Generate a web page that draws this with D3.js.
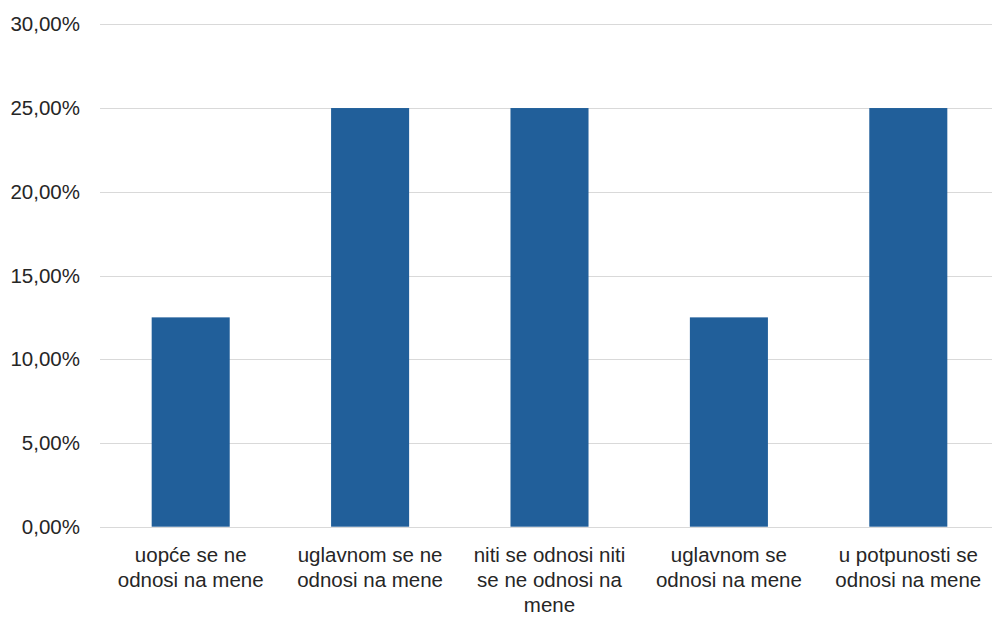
<!DOCTYPE html>
<html>
<head>
<meta charset="utf-8">
<script src="https://cdn.jsdelivr.net/npm/d3@7"></script>
<style>
  html, body { margin: 0; padding: 0; background: #fff; }
  svg { display: block; }
</style>
</head>
<body>
<svg id="chart" width="992" height="617"></svg>
<script>
const categories = [
  "uopće se ne\nodnosi na mene",
  "uglavnom se ne\nodnosi na mene",
  "niti se odnosi niti\nse ne odnosi na\nmene",
  "uglavnom se\nodnosi na mene",
  "u potpunosti se\nodnosi na mene"
];
const values = [0.125, 0.25, 0.25, 0.125, 0.25];
const yTicks = [0, 0.05, 0.10, 0.15, 0.20, 0.25, 0.30];

const svg = d3.select("#chart");
const font = "'Liberation Sans', Arial, sans-serif";
const textColor = "#262626";

const x = d3.scaleBand()
  .domain(categories)
  .range([101, 998])
  .paddingInner(0.565)
  .paddingOuter(0.2825);

const y = d3.scaleLinear()
  .domain([0, 0.30])
  .range([526.7, 24.3]);

const fmt = v => (v * 100).toFixed(2).replace(".", ",") + "%";

// gridlines
svg.append("g")
  .selectAll("line")
  .data(yTicks)
  .join("line")
  .attr("x1", 100)
  .attr("x2", 992)
  .attr("y1", d => Math.round(y(d)) + 0.5)
  .attr("y2", d => Math.round(y(d)) + 0.5)
  .attr("stroke", "#d9d9d9")
  .attr("stroke-width", 1);

// y labels
svg.append("g")
  .selectAll("text")
  .data(yTicks)
  .join("text")
  .attr("x", 80)
  .attr("y", d => y(d))
  .attr("dy", "0.35em")
  .attr("text-anchor", "end")
  .attr("font-family", font)
  .attr("font-size", 20.5)
  .attr("fill", textColor)
  .text(fmt);

// bars
svg.append("g")
  .selectAll("rect")
  .data(values)
  .join("rect")
  .attr("x", (d, i) => x(categories[i]))
  .attr("width", x.bandwidth())
  .attr("y", d => y(d))
  .attr("height", d => y(0) - y(d))
  .attr("fill", "#215f9a");

// x labels
const xl = svg.append("g")
  .selectAll("text")
  .data(categories)
  .join("text")
  .attr("text-anchor", "middle")
  .attr("font-family", font)
  .attr("font-size", 20.5)
  .attr("fill", textColor);
xl.selectAll("tspan")
  .data(d => d.split("\n").map((t, i) => ({ t, i, c: d })))
  .join("tspan")
  .attr("x", d => x(d.c) + x.bandwidth() / 2)
  .attr("y", d => 562 + d.i * 25)
  .text(d => d.t);
</script>
</body>
</html>
